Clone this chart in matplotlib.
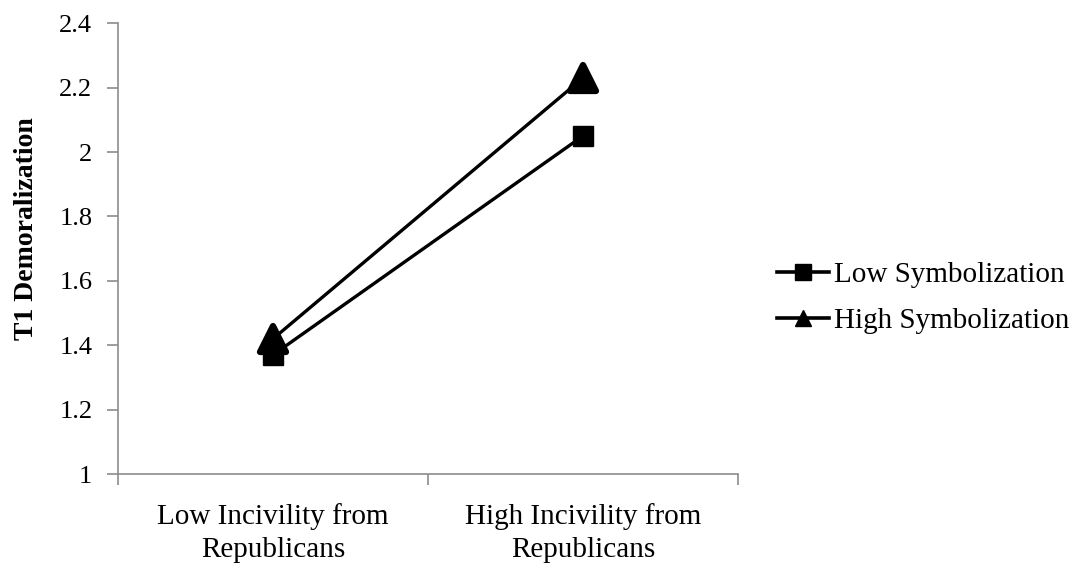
import matplotlib
matplotlib.use("Agg")
import matplotlib.pyplot as plt
from matplotlib.lines import Line2D
from matplotlib.markers import MarkerStyle

plt.rcParams.update({
    "font.family": "serif",
    "font.serif": ["Liberation Serif", "DejaVu Serif"],
    "font.size": 19,
})

categories = ["Low Incivility from\nRepublicans", "High Incivility from\nRepublicans"]
low_sym = [1.37, 2.05]
high_sym = [1.42, 2.23]
yticks = [1, 1.2, 1.4, 1.6, 1.8, 2, 2.2, 2.4]
ytick_labels = ["1", "1.2", "1.4", "1.6", "1.8", "2", "2.2", "2.4"]

AX_COL = "#8c8c8c"

fig = plt.figure(figsize=(10.78, 5.66), dpi=100)
ax = fig.add_axes([0.1095, 0.1625, 0.5751, 0.7965])

x = list(range(len(categories)))
ax.plot(x, low_sym, "-", color="black", lw=2.4, marker="s", ms=14, zorder=3)
# rounded triangles like the reference
tri = MarkerStyle("^", joinstyle="round")
ax.plot(x, high_sym, "-", color="black", lw=2.4, marker=tri, ms=19, mew=4.5,
        markeredgecolor="black", zorder=4)

ax.set_xlim(-0.5, 1.5)
ax.set_ylim(1, 2.4)
ax.set_yticks(yticks)
ax.set_yticklabels(ytick_labels, fontsize=19)
ax.set_xticks(x)
ax.set_xticklabels(categories, fontsize=21, linespacing=1.35)
ax.set_xticks([-0.5, 0.5, 1.5], minor=True)
ax.tick_params(axis="x", which="major", length=0, pad=21)
ax.tick_params(axis="x", which="minor", length=8, color=AX_COL, width=1.2)
ax.tick_params(axis="y", length=8, color=AX_COL, width=1.2, pad=10.5)

for s in ("top", "right"):
    ax.spines[s].set_visible(False)
for s in ("left", "bottom"):
    ax.spines[s].set_color(AX_COL)
    ax.spines[s].set_linewidth(1.2)

ax.set_ylabel("T1 Demoralization", fontsize=20, fontweight="bold")
ax.yaxis.set_label_coords(-0.1275, 0.545)

handles = [
    Line2D([], [], color="black", lw=2.6, marker="s", ms=11, label="Low Symbolization"),
    Line2D([], [], color="black", lw=2.6, marker="^", ms=12, label="High Symbolization"),
]
fig.legend(handles=handles, loc="center left", bbox_to_anchor=(0.7205, 0.474),
           frameon=False, fontsize=21, handlelength=1.8, handletextpad=0.15,
           labelspacing=0.68, borderpad=0, borderaxespad=0)

fig.savefig("out.png", dpi=100)
